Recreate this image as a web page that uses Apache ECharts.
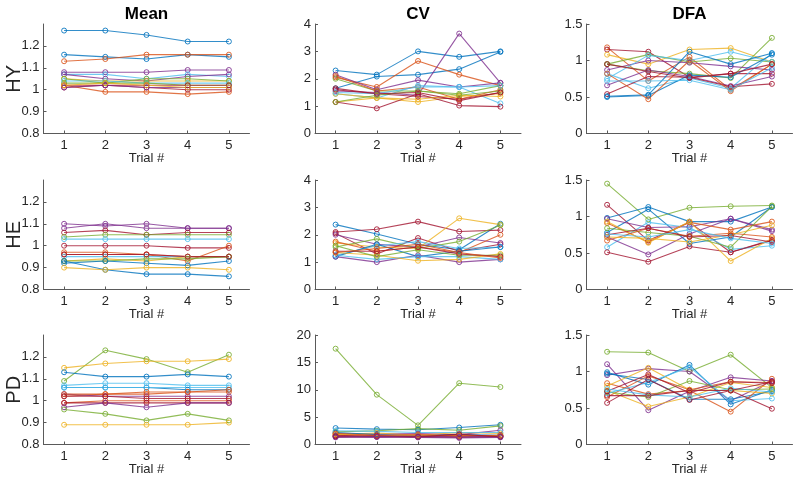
<!DOCTYPE html>
<html><head><meta charset="utf-8">
<script src="https://cdn.jsdelivr.net/npm/echarts@6/dist/echarts.min.js"></script>
<style>html,body{margin:0;padding:0;background:#fff}#c{width:800px;height:480px}</style>
</head><body><div id="c"></div>
<script>
const trials = [1, 2, 3, 4, 5];
const colTitles = ['Mean', 'CV', 'DFA'];
const rowLabels = ['HY', 'HE', 'PD'];
const palette = ['#0072BD', '#D95319', '#EDB120', '#7E2F8E', '#77AC30', '#4DBEEE', '#A2142F'];
const meanTicks = [0.8, 0.9, 1, 1.1, 1.2];
const cvTicks = [0, 1, 2, 3, 4];
const cvPDTicks = [0, 5, 10, 15, 20];
const dfaTicks = [0, 0.5, 1, 1.5];

const meanHY = [[1.27,1.27,1.25,1.22,1.22],[1.16,1.15,1.14,1.16,1.15],[1.13,1.14,1.16,1.16,1.16],[1.08,1.08,1.08,1.09,1.09],[1.07,1.07,1.05,1.07,1.06],[1.07,1.05,1.04,1.06,1.07],[1.05,1.04,1.04,1.04,1.04],[1.05,1.03,1.05,1.05,1.04],[1.04,1.04,1.03,1.03,1.03],[1.03,1.03,1.03,1.02,1.02],[1.02,1.02,1.02,1.02,1.02],[1.02,0.99,0.99,0.98,0.99],[1.01,1.02,1.01,1.00,1.00],[1.01,1.02,1.01,1.01,1.01],[1.02,1.03,1.02,1.01,1.01]];
const meanHYColors = [0,0,1,3,5,3,2,4,5,4,6,1,6,3,2];
const cvHY = [[2.3,2.15,3.0,2.8,3.0],[1.65,2.08,2.15,2.35,2.98],[2.05,1.7,2.65,2.15,1.75],[1.55,1.5,1.4,3.65,1.85],[2.15,1.6,1.95,1.7,1.85],[1.45,1.3,1.75,1.7,1.1],[2.0,1.55,1.55,1.45,1.75],[1.15,1.3,1.15,1.35,1.45],[1.15,0.92,1.45,1.02,0.98],[1.65,1.45,1.35,1.25,1.5],[2.1,1.55,1.7,1.25,1.6],[1.45,1.3,1.25,1.4,1.35],[1.15,1.4,1.55,1.4,1.55],[1.5,1.45,1.7,1.7,1.75],[1.6,1.45,1.5,1.2,1.5]];
const cvHYColors = [0,0,1,3,3,5,4,2,6,6,1,2,4,5,6];
const dfaHY = [[1.18,0.72,1.05,0.6,0.95],[1.15,1.12,0.77,0.82,0.82],[1.08,0.95,1.15,1.17,0.98],[0.95,1.08,0.98,1.03,0.98],[0.95,0.86,0.82,0.76,1.31],[0.87,1.0,0.97,0.92,0.87],[0.82,0.62,0.76,0.62,1.1],[0.75,1.07,1.0,1.12,0.98],[0.66,0.87,0.78,0.65,0.78],[0.54,0.78,0.77,0.64,0.68],[0.51,0.53,1.12,0.95,1.1],[0.5,0.52,0.8,0.77,1.08],[0.82,0.47,1.0,0.58,0.95],[0.72,0.72,0.73,0.6,0.9],[0.95,0.85,0.76,0.82,0.95]];
const dfaHYColors = [1,6,2,4,4,3,5,5,3,6,0,0,1,5,6];

const meanHE = [[1.10,1.09,1.10,1.08,1.08],[1.08,1.10,1.08,1.08,1.08],[1.06,1.07,1.05,1.06,1.06],[1.04,1.05,1.05,1.05,1.05],[1.03,1.03,1.03,1.03,1.03],[1.00,1.00,1.00,0.99,0.99],[0.97,0.97,0.96,0.93,1.00],[0.96,0.96,0.96,0.95,0.95],[0.95,0.95,0.95,0.95,0.95],[0.93,0.94,0.93,0.95,0.95],[0.93,0.93,0.94,0.94,0.95],[0.92,0.93,0.92,0.91,0.93],[0.93,0.89,0.87,0.87,0.86],[0.90,0.89,0.90,0.90,0.89],[0.96,0.96,0.96,0.95,0.95]];
const meanHEColors = [3,3,6,4,5,6,1,1,5,2,4,0,0,2,6];
const cvHE = [[2.37,2.03,1.65,1.45,2.4],[2.1,2.2,2.48,2.12,2.17],[2.05,1.3,1.88,1.4,1.65],[2.0,1.65,1.55,1.9,1.7],[1.7,1.55,1.5,2.6,2.37],[1.55,1.85,1.5,1.75,2.35],[1.75,1.4,1.55,1.35,2.0],[1.25,1.6,1.75,1.5,1.55],[1.2,1.65,1.2,1.4,1.55],[1.2,1.0,1.25,1.0,1.1],[1.25,1.1,1.2,1.2,1.1],[1.35,1.25,1.05,1.1,1.3],[1.6,1.2,1.45,1.25,1.25],[1.4,1.4,1.55,1.3,1.2],[1.35,1.5,1.65,1.35,1.15]];
const cvHEColors = [0,6,6,3,2,4,1,5,0,3,5,2,4,6,1];
const dfaHE = [[1.45,0.96,1.12,1.14,1.15],[1.16,0.67,0.92,0.51,0.68],[0.98,1.13,0.93,0.93,1.13],[0.78,1.1,0.63,0.72,1.13],[0.58,0.92,0.85,0.55,0.6],[0.51,0.38,0.59,0.51,0.67],[0.72,0.48,0.76,0.97,0.8],[0.97,0.85,0.86,0.97,0.82],[0.91,0.65,0.92,0.82,0.93],[0.93,0.64,0.93,0.39,0.7],[0.84,0.78,0.73,0.58,1.14],[0.67,0.84,0.73,0.77,0.72],[0.72,0.7,0.65,0.75,0.88],[0.75,0.84,0.72,0.74,0.65],[0.76,0.72,0.82,0.7,0.63]];
const dfaHEColors = [4,6,0,0,5,6,3,3,1,2,4,1,2,6,5];

const meanPD = [[1.09,1.23,1.19,1.13,1.21],[1.15,1.17,1.18,1.18,1.19],[1.13,1.11,1.11,1.12,1.11],[1.07,1.08,1.08,1.07,1.07],[1.06,1.06,1.06,1.05,1.05],[1.06,1.06,1.06,1.06,1.06],[1.02,1.03,1.04,1.04,1.04],[1.03,1.02,1.02,1.02,1.02],[1.03,1.03,1.03,1.04,1.05],[0.99,1.00,1.00,1.00,1.00],[0.99,0.99,0.99,0.99,0.99],[0.97,0.99,0.97,0.99,0.99],[0.96,0.94,0.91,0.94,0.91],[0.89,0.89,0.89,0.89,0.90],[1.02,1.02,1.01,1.01,1.01]];
const meanPDColors = [4,2,0,5,0,5,1,3,1,1,6,3,4,2,6];
const cvPD = [[17.5,9.1,3.5,11.2,10.5],[3.0,2.8,2.7,3.1,3.6],[2.3,2.5,2.9,2.6,3.4],[2.0,1.9,2.0,1.8,2.6],[1.8,2.1,1.7,2.2,2.0],[2.2,1.8,1.6,1.8,1.7],[1.6,1.5,1.4,1.5,1.6],[1.4,1.4,1.4,1.3,1.4],[1.7,1.5,1.5,1.6,1.5],[2.5,2.4,2.2,2.2,2.2],[1.9,1.6,1.6,1.6,1.6],[1.5,1.4,1.5,1.4,1.5],[2.0,1.7,1.8,1.6,1.7],[1.5,1.6,1.4,1.9,1.4],[1.3,1.4,1.3,1.2,1.3]];
const cvPDColors = [4,0,4,3,2,0,1,6,6,5,2,3,1,6,3];
const dfaPD = [[1.27,1.26,1.0,1.23,0.78],[1.1,0.47,0.73,0.92,0.87],[0.95,1.04,1.0,0.6,0.87],[0.99,0.82,1.09,0.55,0.75],[0.97,0.89,0.62,0.62,0.73],[0.84,0.69,0.74,0.45,0.9],[0.65,0.94,0.75,0.86,0.85],[0.8,1.05,0.75,0.74,0.7],[0.74,0.52,0.65,0.85,0.78],[0.72,0.65,0.87,0.75,0.76],[0.7,0.85,1.06,0.6,0.63],[0.57,0.89,0.61,0.74,0.49],[0.73,0.96,0.71,0.86,0.84],[0.76,0.68,0.65,0.77,0.72],[0.67,0.67,0.74,0.74,0.86]];
const dfaPDColors = [4,3,3,0,0,1,1,2,2,4,5,6,6,5,6];

const panels = [
  {r:0,c:0,data:meanHY,colors:meanHYColors,min:0.8,max:1.3,ticks:meanTicks},
  {r:0,c:1,data:cvHY,colors:cvHYColors,min:0,max:4,ticks:cvTicks},
  {r:0,c:2,data:dfaHY,colors:dfaHYColors,min:0,max:1.5,ticks:dfaTicks},
  {r:1,c:0,data:meanHE,colors:meanHEColors,min:0.8,max:1.3,ticks:meanTicks},
  {r:1,c:1,data:cvHE,colors:cvHEColors,min:0,max:4,ticks:cvTicks},
  {r:1,c:2,data:dfaHE,colors:dfaHEColors,min:0,max:1.5,ticks:dfaTicks},
  {r:2,c:0,data:meanPD,colors:meanPDColors,min:0.8,max:1.3,ticks:meanTicks},
  {r:2,c:1,data:cvPD,colors:cvPDColors,min:0,max:20,ticks:cvPDTicks},
  {r:2,c:2,data:dfaPD,colors:dfaPDColors,min:0,max:1.5,ticks:dfaTicks}
];

const colLeft = [43.5, 315, 586.5];
const colWidth = 206;
const rowTop = [24, 180, 335];
const rowHeight = 109.5;
const axisColor = '#5a5a5a';
const textColor = '#262626';
const font = 'Liberation Sans, Arial, Helvetica, sans-serif';

const grid = [], xAxis = [], yAxis = [], series = [];
panels.forEach((p, i) => {
  grid.push({left: colLeft[p.c], top: rowTop[p.r], width: colWidth, height: rowHeight, containLabel: false, outerBoundsMode: 'none'});
  xAxis.push({
    type: 'value', gridIndex: i, min: 0.5, max: 5.5,
    name: 'Trial #', nameLocation: 'middle', nameGap: 18,
    nameTextStyle: {color: textColor, fontSize: 13, fontFamily: font},
    axisLine: {show: true, onZero: false, lineStyle: {color: axisColor, width: 1}},
    axisTick: {show: true, inside: true, length: 3, customValues: trials, lineStyle: {color: axisColor}},
    axisLabel: {customValues: trials, color: textColor, fontSize: 13, fontFamily: font, margin: 5},
    splitLine: {show: false}
  });
  yAxis.push({
    type: 'value', gridIndex: i, min: p.min, max: p.max,
    axisLine: {show: true, onZero: false, lineStyle: {color: axisColor, width: 1}},
    axisTick: {show: true, inside: true, length: 3, customValues: p.ticks, lineStyle: {color: axisColor}},
    axisLabel: {customValues: p.ticks, color: textColor, fontSize: 13, fontFamily: font, margin: 4},
    splitLine: {show: false}
  });
  p.data.forEach((vals, k) => {
    const col = palette[p.colors[k]];
    series.push({
      type: 'line', xAxisIndex: i, yAxisIndex: i,
      data: trials.map((t, j) => [t, vals[j]]),
      symbol: 'circle', symbolSize: 5, showAllSymbol: true,
      lineStyle: {color: col, width: 1.1, opacity: 0.8},
      itemStyle: {color: 'rgba(255,255,255,0)', borderColor: col, borderWidth: 1, opacity: 0.85},
      emphasis: {disabled: true}, silent: true, z: 2
    });
  });
});

const graphic = colTitles.map((t, c) => ({
  type: 'text', x: colLeft[c] + colWidth / 2, y: 14,
  style: {text: t, fill: '#000', font: 'bold 17px ' + font, textAlign: 'center', textVerticalAlign: 'middle'}
})).concat(rowLabels.map((t, r) => ({
  type: 'text', x: 14, y: rowTop[r] + rowHeight / 2, rotation: Math.PI / 2,
  style: {text: t, fill: textColor, font: '20px ' + font, textAlign: 'center', textVerticalAlign: 'middle'}
})));

const chart = echarts.init(document.getElementById('c'), null, {renderer: 'canvas'});
chart.setOption({animation: false, backgroundColor: '#fff', grid, xAxis, yAxis, series, graphic});
</script></body></html>
